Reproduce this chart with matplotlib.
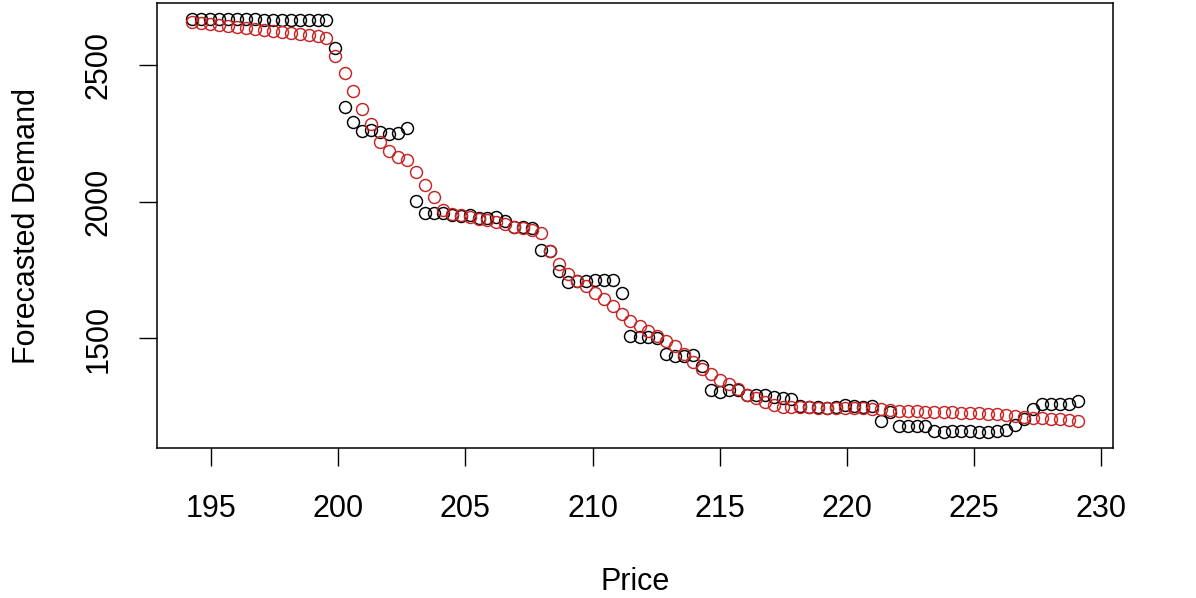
import matplotlib
matplotlib.use("Agg")
import matplotlib.pyplot as plt

price = [194.27, 194.62, 194.97, 195.32, 195.68, 196.03, 196.38, 196.73, 197.08, 197.43,
         197.79, 198.14, 198.49, 198.84, 199.19, 199.54, 199.89, 200.25, 200.60, 200.95,
         201.30, 201.65, 202.00, 202.35, 202.71, 203.06, 203.41, 203.76, 204.11, 204.46,
         204.82, 205.17, 205.52, 205.87, 206.22, 206.57, 206.92, 207.28, 207.63, 207.98,
         208.33, 208.68, 209.03, 209.38, 209.74, 210.09, 210.44, 210.79, 211.14, 211.49,
         211.85, 212.20, 212.55, 212.90, 213.25, 213.60, 213.95, 214.31, 214.66, 215.01,
         215.36, 215.71, 216.06, 216.41, 216.77, 217.12, 217.47, 217.82, 218.17, 218.52,
         218.88, 219.23, 219.58, 219.93, 220.28, 220.63, 220.98, 221.34, 221.69, 222.04,
         222.39, 222.74, 223.09, 223.44, 223.80, 224.15, 224.50, 224.85, 225.20, 225.55,
         225.91, 226.26, 226.61, 226.96, 227.31, 227.66, 228.01, 228.37, 228.72, 229.07]

demand_black = [2666, 2666, 2666, 2666, 2666, 2666, 2666, 2666, 2663, 2663,
                2663, 2663, 2663, 2663, 2663, 2663, 2563, 2347, 2290, 2259,
                2262, 2254, 2248, 2250, 2268, 2003, 1960, 1960, 1958, 1951,
                1949, 1952, 1939, 1939, 1945, 1930, 1906, 1906, 1905, 1823,
                1821, 1748, 1705, 1711, 1711, 1713, 1714, 1714, 1668, 1510,
                1506, 1504, 1501, 1443, 1437, 1437, 1440, 1400, 1311, 1306,
                1310, 1312, 1295, 1293, 1295, 1285, 1283, 1278, 1255, 1250,
                1248, 1247, 1250, 1258, 1255, 1248, 1252, 1199, 1232, 1181,
                1181, 1181, 1181, 1163, 1160, 1163, 1163, 1163, 1160, 1160,
                1163, 1165, 1185, 1205, 1242, 1260, 1262, 1262, 1262, 1270]

demand_red = [2657, 2652, 2648, 2645, 2642, 2638, 2635, 2631, 2628, 2624,
              2621, 2617, 2614, 2610, 2604, 2597, 2532, 2470, 2405, 2339,
              2284, 2217, 2187, 2165, 2153, 2110, 2062, 2016, 1968, 1955,
              1950, 1944, 1938, 1932, 1926, 1918, 1908, 1904, 1897, 1887,
              1821, 1772, 1736, 1711, 1693, 1665, 1644, 1620, 1589, 1565,
              1546, 1528, 1510, 1491, 1473, 1443, 1415, 1390, 1370, 1347,
              1333, 1316, 1295, 1282, 1268, 1256, 1250, 1249, 1248, 1248,
              1247, 1247, 1246, 1246, 1245, 1245, 1244, 1242, 1238, 1236,
              1235, 1234, 1232, 1231, 1230, 1230, 1228, 1227, 1226, 1225,
              1224, 1222, 1218, 1213, 1210, 1208, 1206, 1205, 1203, 1200]

x_ticks = [195, 200, 205, 210, 215, 220, 225, 230]
y_ticks = [1500, 2000, 2500]

plt.rcParams['font.family'] = ['Liberation Sans', 'DejaVu Sans']

W, H = 1196, 598
fig = plt.figure(figsize=(W / 100, H / 100), dpi=100)
ax = fig.add_axes([157 / W, (H - 448) / H, (1113 - 157) / W, (448 - 3) / H])

ax.plot(price, demand_black, linestyle='none', marker='o', markersize=8.6,
        markerfacecolor='none', markeredgecolor='black', markeredgewidth=1.05)
ax.plot(price, demand_red, linestyle='none', marker='o', markersize=8.6,
        markerfacecolor='none', markeredgecolor='#c82424', markeredgewidth=1.05)

# R-style 4% axis extension
xmin, xmax = min(price), max(price)
allv = demand_black + demand_red
ymin, ymax = min(allv), max(allv)
dx = (xmax - xmin) * 0.04
dy = (ymax - ymin) * 0.04
ax.set_xlim(xmin - dx, xmax + dx)
ax.set_ylim(ymin - dy, ymax + dy)

ax.set_xticks(x_ticks)
ax.set_xticklabels([str(t) for t in x_ticks])
ax.set_yticks(y_ticks)
ax.set_yticklabels([str(t) for t in y_ticks], rotation=90, va='center')

for s in ax.spines.values():
    s.set_linewidth(1.1)
    s.set_color('black')

ax.tick_params(axis='both', direction='out', length=13, width=1.0, labelsize=22, colors='black')
ax.tick_params(axis='x', pad=20)
ax.tick_params(axis='y', pad=18)

ax.set_xlabel('Price', fontsize=22, labelpad=31)
ax.set_ylabel('Forecasted Demand', fontsize=22, labelpad=30)

fig.savefig('out.png', dpi=100)
